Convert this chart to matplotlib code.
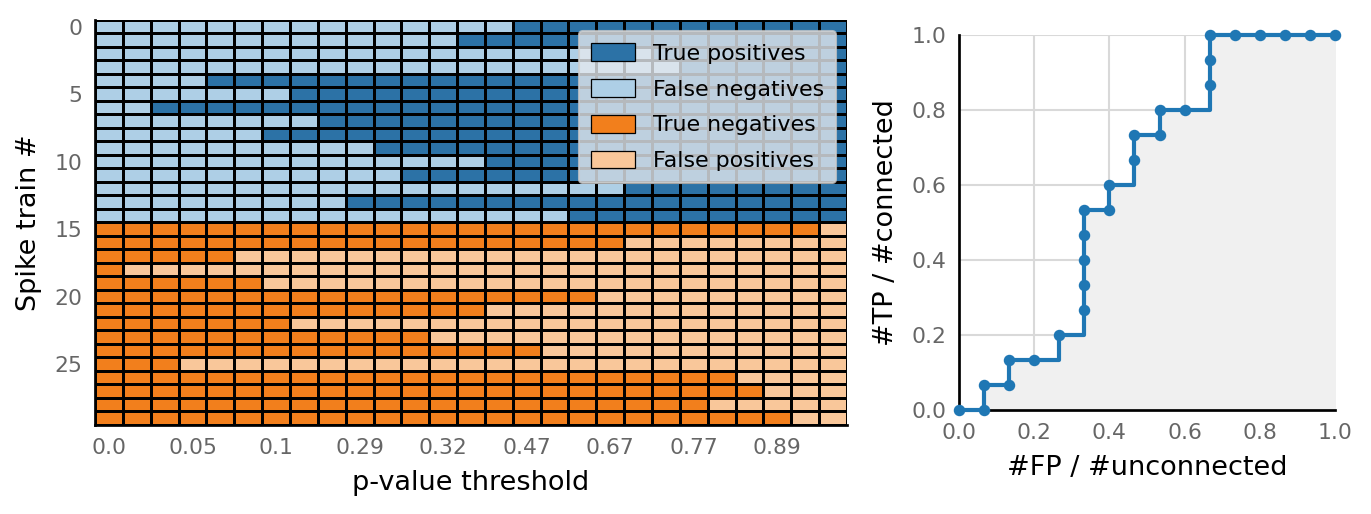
import numpy as np
import matplotlib
matplotlib.use('Agg')
import matplotlib.pyplot as plt
from matplotlib.colors import ListedColormap
from matplotlib.patches import Patch

# === DATA ===
# first threshold column at which each spike train is classified as connected
connected_first = [15, 13, 20, 21, 4, 7, 2, 8, 6, 10, 14, 11, 19, 9, 17]      # rows 0-14
unconnected_first = [26, 19, 5, 1, 6, 18, 14, 7, 12, 16, 3, 23, 24, 22, 25]  # rows 15-29
n_thresholds = 27
pval_labels = ['0.0', '0.05', '0.1', '0.29', '0.32', '0.47', '0.67', '0.77', '0.89']

# ROC points (counts out of 15)
fp_counts = [0, 1, 1, 2, 2, 3, 4, 5, 5, 5, 5, 5, 6, 6, 7, 7, 8, 8, 9, 10, 10, 10,
             11, 12, 13, 14, 15]
tp_counts = [0, 0, 1, 1, 2, 2, 3, 4, 5, 6, 7, 8, 8, 9, 10, 11, 11, 12, 12, 13, 14, 15,
             15, 15, 15, 15, 15]
n_conn = 15
n_unconn = 15

labels = ['True positives', 'False negatives', 'True negatives', 'False positives']
colors = ['#2c72a6', '#aecfe6', '#f27f1c', '#f9c79a']

# build class matrix: 0 TP, 1 FN, 2 TN, 3 FP
cols = np.arange(n_thresholds)
mat = []
for f in connected_first:
    mat.append(np.where(cols >= f, 0, 1))
for f in unconnected_first:
    mat.append(np.where(cols >= f, 3, 2))
mat = np.array(mat)

fig = plt.figure(figsize=(9.14, 3.427), dpi=150)
ax1 = fig.add_axes([95/1371, 1-425/514, 752/1371, 405/514])
ax2 = fig.add_axes([959/1371, 1-410/514, 376/1371, 375/514])

tick_col = '#666666'

# --- heatmap ---
cmap = ListedColormap(colors)
ax1.pcolormesh(mat, cmap=cmap, vmin=-0.5, vmax=3.5, edgecolors='k', linewidth=0.6)
ax1.set_xlim(0, n_thresholds)
ax1.set_ylim(mat.shape[0], 0)
ax1.set_xticks(np.arange(0, n_thresholds, 3) + 0.5)
ax1.set_xticklabels(pval_labels)
ax1.set_yticks(np.arange(0, 30, 5) + 0.5)
ax1.set_yticklabels([str(i) for i in range(0, 30, 5)])
ax1.tick_params(length=0, labelsize=10.5, colors=tick_col, pad=6)
for s in ['top', 'right']:
    ax1.spines[s].set_visible(False)
for s in ['left', 'bottom']:
    ax1.spines[s].set_linewidth(1.3)
ax1.set_xlabel('p-value threshold', fontsize=13, labelpad=6)
ax1.set_ylabel('Spike train #', fontsize=13, labelpad=6)
handles = [Patch(facecolor=c, edgecolor='k', linewidth=0.6) for c in colors]
leg = ax1.legend(handles, labels, loc='upper right', fontsize=10.6, framealpha=0.8,
                 facecolor='#e4e9ee', edgecolor='#cccccc', borderaxespad=0.5,
                 labelspacing=0.7, borderpad=0.55, handleheight=0.85)

# --- ROC ---
fpr = np.array(fp_counts) / n_unconn
tpr = np.array(tp_counts) / n_conn
ax2.fill_between(fpr, tpr, step='post', color='#f0f0f0', zorder=1)
ax2.plot(fpr, tpr, '-o', drawstyle='steps-post', color='#1f77b4', lw=2, ms=4.5,
         clip_on=False, zorder=3)
ax2.set_xlim(0, 1)
ax2.set_ylim(0, 1)
ax2.set_xticks(np.arange(0, 1.01, 0.2))
ax2.set_yticks(np.arange(0, 1.01, 0.2))
ax2.grid(True, color='#d9d9d9', lw=1, zorder=0)
ax2.set_axisbelow(True)
ax2.tick_params(length=0, labelsize=10.5, colors=tick_col, pad=6)
for s in ['top', 'right']:
    ax2.spines[s].set_visible(False)
for s in ['left', 'bottom']:
    ax2.spines[s].set_linewidth(1.3)
ax2.set_xlabel('#FP / #unconnected', fontsize=13, labelpad=6)
ax2.set_ylabel('#TP / #connected', fontsize=13, labelpad=6)

plt.savefig('out.png', dpi=150)
